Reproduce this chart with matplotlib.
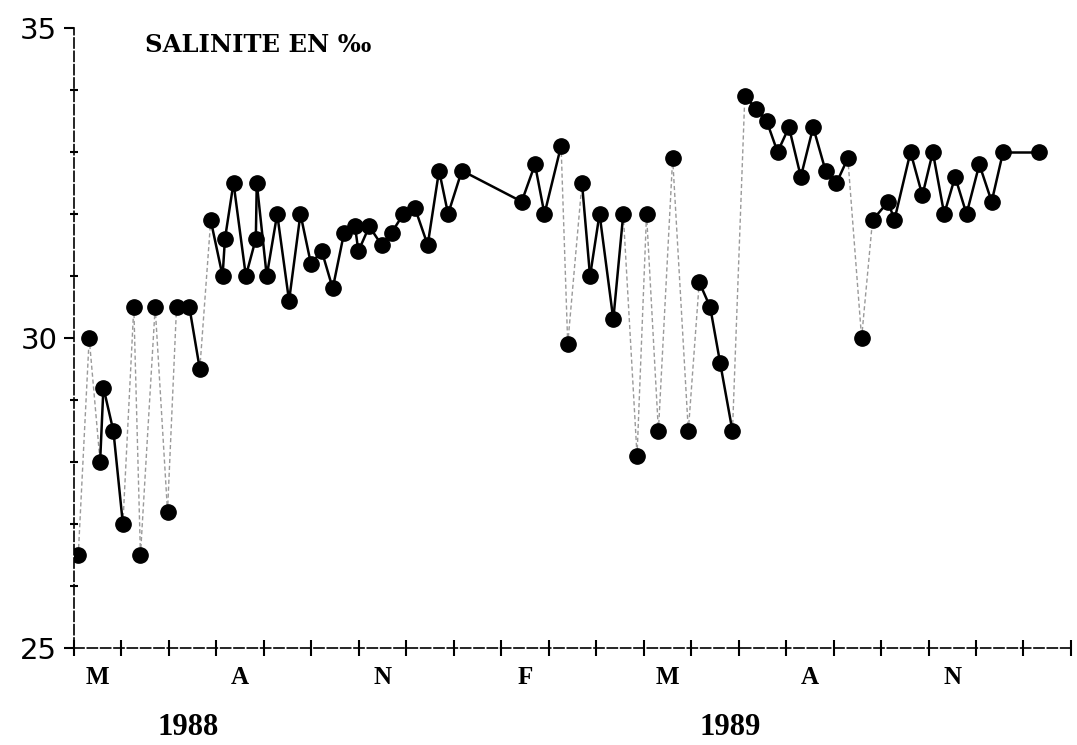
import numpy as np
import matplotlib
matplotlib.use("Agg")
import matplotlib.pyplot as plt
import matplotlib.transforms as mtransforms

# sampling dates, in months counted from 1 May 1988
months = [0.09, 0.32, 0.55, 0.62, 0.83, 1.03, 1.26, 1.40, 1.71, 1.97,
          2.16, 2.43, 2.65, 2.88, 3.13, 3.18, 3.36, 3.62, 3.83, 3.85,
          4.06, 4.28, 4.53, 4.77, 4.99, 5.22, 5.45, 5.69, 5.92, 5.99,
          6.22, 6.48, 6.69, 6.94, 7.18, 7.45, 7.69, 7.88, 8.17, 9.43,
          9.71, 9.91, 10.26, 10.40, 10.70, 10.87, 11.07, 11.36, 11.57, 11.86,
          12.06, 12.31, 12.61, 12.94, 13.17, 13.40, 13.61, 13.87, 14.13, 14.37,
          14.59, 14.82, 15.06, 15.31, 15.57, 15.83, 16.06, 16.30, 16.59, 16.82,
          17.15, 17.28, 17.62, 17.87, 18.09, 18.33, 18.56, 18.80, 19.07, 19.33,
          19.57, 20.33]
salinity = [26.5, 30.0, 28.0, 29.2, 28.5, 27.0, 30.5, 26.5, 30.5, 27.2,
            30.5, 30.5, 29.5, 31.9, 31.0, 31.6, 32.5, 31.0, 31.6, 32.5,
            31.0, 32.0, 30.6, 32.0, 31.2, 31.4, 30.8, 31.7, 31.8, 31.4,
            31.8, 31.5, 31.7, 32.0, 32.1, 31.5, 32.7, 32.0, 32.7, 32.2,
            32.8, 32.0, 33.1, 29.9, 32.5, 31.0, 32.0, 30.3, 32.0, 28.1,
            32.0, 28.5, 32.9, 28.5, 30.9, 30.5, 29.6, 28.5, 33.9, 33.7,
            33.5, 33.0, 33.4, 32.6, 33.4, 32.7, 32.5, 32.9, 30.0, 31.9,
            32.2, 31.9, 33.0, 32.3, 33.0, 32.0, 32.6, 32.0, 32.8, 32.2,
            33.0, 33.0]

month_labels = ["M", "A", "N", "F", "M", "A", "N"]
month_label_pos = [0.5, 3.5, 6.5, 9.5, 12.5, 15.5, 18.5]
years = ["1988", "1989"]
year_pos = [2.40, 13.82]

fig = plt.figure(figsize=(10.77, 7.45), dpi=100)
ax = fig.add_axes([0.0687, 0.1302, 0.9257, 0.8322])

# segments: big jumps came out faint and broken on the original plot
for i in range(len(months) - 1):
    xs = months[i:i + 2]
    ys = salinity[i:i + 2]
    if abs(ys[1] - ys[0]) > 1.8:
        ax.plot(xs, ys, color="#9a9a9a", lw=1.0, ls=(0, (3, 2)), zorder=1)
    else:
        ax.plot(xs, ys, color="black", lw=1.8, zorder=2)
ax.plot(months, salinity, "o", color="black", ms=11, zorder=3)

ax.set_xlim(0, 21)
ax.set_ylim(25, 35)

ax.spines["top"].set_visible(False)
ax.spines["right"].set_visible(False)
for s in ["left", "bottom"]:
    ax.spines[s].set_linewidth(1.2)
    ax.spines[s].set_linestyle((0, (6, 2)))

ax.set_yticks([25, 30, 35])
ax.set_yticklabels(["25", "30", "35"], fontsize=21, family="DejaVu Sans")
ax.set_yticks(np.arange(26, 35), minor=True)
ax.tick_params(axis="y", which="major", direction="out", length=7, width=1.5, pad=5)
ax.tick_params(axis="y", which="minor", direction="inout", length=6, width=1.5)

ax.set_xticks(np.arange(0, 22))
ax.set_xticklabels([])
ax.tick_params(axis="x", which="major", direction="inout", length=11, width=1.5)
ax.set_xticks(month_label_pos, minor=True)
ax.set_xticklabels(month_labels, minor=True, fontsize=18,
                   family="Liberation Serif", fontweight="bold")
ax.tick_params(axis="x", which="minor", length=0, pad=13)

trans = mtransforms.blended_transform_factory(ax.transData, fig.transFigure)
for yr, xp in zip(years, year_pos):
    ax.text(xp, 0.024, yr, transform=trans, ha="center", va="center",
            fontsize=22, family="Liberation Serif", fontweight="bold")

ax.text(1.5, 34.62, "SALINITE EN ‰", ha="left", va="baseline",
        fontsize=17.5, family="DejaVu Serif", fontweight="bold")

fig.savefig("out.png", dpi=100)
